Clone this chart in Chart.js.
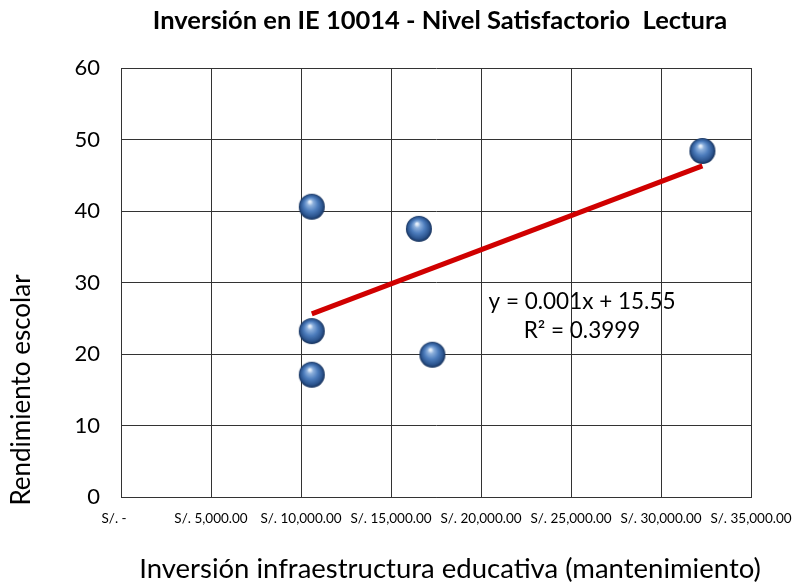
<!DOCTYPE html>
<html>
<head>
<meta charset="utf-8">
<script src="https://cdn.jsdelivr.net/npm/chart.js@4.4.1/dist/chart.umd.min.js"></script>
<style>
  html, body {margin:0; padding:0; background:#fff; overflow:hidden;}
  #wrap {position:relative; width:793px; height:585px;}
</style>
</head>
<body>
<div id="wrap"><canvas id="chart"></canvas></div>
<script>
  // data
  const chartTitle = 'Inversión en IE 10014 - Nivel Satisfactorio  Lectura';
  const xTitle = 'Inversión infraestructura educativa (mantenimiento)';
  const yTitle = 'Rendimiento escolar';
  const inversion = [10600, 10600, 10600, 16550, 17300, 32300];
  const rendimiento = [40.6, 23.2, 17.1, 37.5, 19.9, 48.4];
  const trendX = [10600, 32300];
  const trendY = [25.6, 46.3];
  const xTickLabels = ['S/. -    ', 'S/. 5,000.00', 'S/. 10,000.00', 'S/. 15,000.00', 'S/. 20,000.00', 'S/. 25,000.00', 'S/. 30,000.00', 'S/. 35,000.00'];
  const equation = ['y = 0.001x + 15.55', 'R² = 0.3999'];

  const FONT = 'Lato, "Open Sans", sans-serif';

  // blue sphere marker
  function makeSphere(r) {
    const c = document.createElement('canvas');
    c.width = c.height = r * 2 + 2;
    const g = c.getContext('2d');
    const cx = r + 1, cy = r + 1;
    const grad = g.createRadialGradient(cx - 2, cy - 5, 1, cx, cy, r);
    grad.addColorStop(0, '#e4eefa');
    grad.addColorStop(0.18, '#8db0dc');
    grad.addColorStop(0.5, '#4d7dbd');
    grad.addColorStop(0.82, '#2c558f');
    grad.addColorStop(1, '#15305a');
    g.beginPath();
    g.arc(cx, cy, r, 0, Math.PI * 2);
    g.fillStyle = grad;
    g.fill();
    return c;
  }
  const sphere = makeSphere(13);

  const textLayer = {
    id: 'textLayer',
    afterDraw(chart) {
      const ctx = chart.ctx;
      ctx.save();
      ctx.fillStyle = '#000';
      ctx.textAlign = 'center';
      ctx.textBaseline = 'middle';
      ctx.font = 'bold 25.5px ' + FONT;
      ctx.fillText(chartTitle, 440, 21);
      ctx.font = '27.5px ' + FONT;
      ctx.fillText(xTitle, 450, 569);
      ctx.save();
      ctx.translate(22, 390);
      ctx.rotate(-Math.PI / 2);
      ctx.font = '26px ' + FONT;
      ctx.fillText(yTitle, 0, 0);
      ctx.restore();
      ctx.font = '22.5px ' + FONT;
      ctx.fillText(equation[0], 582, 302);
      ctx.fillText(equation[1], 582, 331);
      ctx.restore();
    }
  };

  new Chart(document.getElementById('chart'), {
    type: 'scatter',
    data: {
      datasets: [
        {
          type: 'line',
          data: trendX.map((x, i) => ({x: x, y: trendY[i]})),
          borderColor: '#d00000',
          borderWidth: 5,
          pointRadius: 0,
          fill: false
        },
        {
          data: inversion.map((x, i) => ({x: x, y: rendimiento[i]})),
          pointStyle: sphere,
          pointRadius: 13
        }
      ]
    },
    options: {
      animation: false,
      responsive: true,
      maintainAspectRatio: false,
      devicePixelRatio: 1,
      layout: {padding: {top: 68, right: 42, bottom: 0, left: 0}},
      plugins: {legend: {display: false}, tooltip: {enabled: false}},
      scales: {
        x: {
          type: 'linear',
          min: 0, max: 35000,
          afterFit: s => { s.height = 88; s.paddingLeft = 0; s.paddingRight = 0; },
          grid: {color: '#333', drawTicks: false},
          border: {color: '#333'},
          ticks: {
            stepSize: 5000, autoSkip: false, maxRotation: 0, padding: 14,
            color: '#000', font: {family: FONT, size: 13.5},
            callback: (v, i) => xTickLabels[i]
          }
        },
        y: {
          min: 0, max: 60,
          afterFit: s => { s.width = 121; s.paddingTop = 0; s.paddingBottom = 0; },
          grid: {color: '#333', drawTicks: false},
          border: {color: '#333'},
          ticks: {stepSize: 10, padding: 21, color: '#000', font: {family: FONT, size: 22}}
        }
      }
    },
    plugins: [textLayer]
  });
</script>
</body>
</html>
